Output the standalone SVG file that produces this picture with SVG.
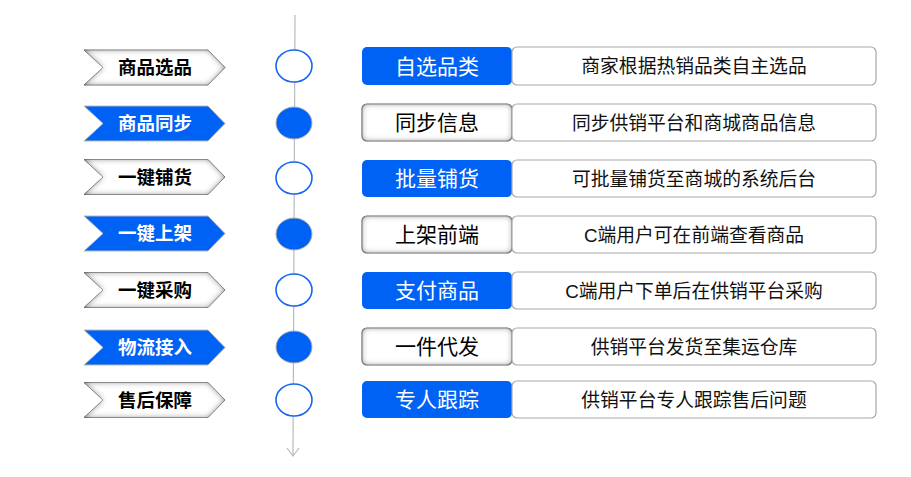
<svg xmlns="http://www.w3.org/2000/svg" width="911" height="477" viewBox="0 0 911 477">
<defs>
<style>
.cw{fill:#ffffff;stroke:#a8a8a8;stroke-width:1;filter:url(#inset)}
.cb{fill:#0062F5;stroke:#b8b8b8;stroke-width:1}
.ct{font-family:"Liberation Sans","Noto Sans CJK SC",sans-serif;font-size:18.5px;font-weight:bold;text-anchor:middle}
.ctw{fill:#000000}
.ctb{fill:#ffffff}
.oc{fill:#ffffff;stroke:#1466F0;stroke-width:1.6}
.fc{fill:#0062F5;stroke:#b0b0b0;stroke-width:1}
.lb{fill:#0062F5;stroke:none}
.lg{fill:#ffffff;stroke:#999999;stroke-width:1.2;filter:url(#inset)}
.lt{font-family:"Liberation Sans","Noto Sans CJK SC",sans-serif;font-size:21px;text-anchor:middle}
.rb{fill:#ffffff;stroke:#a8a8a8;stroke-width:1.2}
.rt{font-family:"Liberation Sans","Noto Sans CJK SC",sans-serif;font-size:18.8px;text-anchor:middle;fill:#111111}
</style>
<filter id="inset" x="-10%" y="-20%" width="120%" height="140%">
<feFlood flood-color="#555555"/>
<feComposite in2="SourceAlpha" operator="out"/>
<feGaussianBlur stdDeviation="3"/>
<feComposite in2="SourceAlpha" operator="in" result="sh"/>
<feMerge><feMergeNode in="SourceGraphic"/><feMergeNode in="sh"/></feMerge>
</filter>
<path id="chev" d="M0,0 H124 L141,17.5 L124,35 H0 L19,17.5 Z"/>
</defs>
<rect width="911" height="477" fill="#ffffff"/>
<g id="connectors">
<line x1="295" y1="15" x2="293" y2="456" stroke="#bbbbbb" stroke-width="1.2"/>
<path d="M287,448 L293,456 L299,448" fill="none" stroke="#bbbbbb" stroke-width="1.2"/>
</g>
<g id="row1">
<use href="#chev" x="84" y="50" class="cw"/>
<text class="ct ctw" x="155" y="74">商品选品</text>
<ellipse class="oc" cx="294" cy="66" rx="18" ry="16"/>
<rect class="lb" x="362" y="47" width="150" height="38" rx="5"/>
<text class="lt" x="437" y="73.5" fill="#ffffff">自选品类</text>
<rect class="rb" x="512" y="47" width="364" height="38" rx="5"/>
<text class="rt" x="694" y="72.5">商家根据热销品类自主选品</text>
</g>
<g id="row2">
<use href="#chev" x="84" y="106" class="cb"/>
<text class="ct ctb" x="155" y="130">商品同步</text>
<ellipse class="fc" cx="294" cy="123" rx="18" ry="16"/>
<rect class="lg" x="362" y="104" width="150" height="37" rx="5"/>
<text class="lt" x="437" y="130" fill="#000000">同步信息</text>
<rect class="rb" x="512" y="104" width="364" height="37" rx="5"/>
<text class="rt" x="694" y="129.5">同步供销平台和商城商品信息</text>
</g>
<g id="row3">
<use href="#chev" x="84" y="159.5" class="cw"/>
<text class="ct ctw" x="155" y="184">一键铺货</text>
<ellipse class="oc" cx="294" cy="178" rx="18" ry="16"/>
<rect class="lb" x="362" y="160" width="150" height="37" rx="5"/>
<text class="lt" x="437" y="186" fill="#ffffff">批量铺货</text>
<rect class="rb" x="512" y="160" width="364" height="37" rx="5"/>
<text class="rt" x="694" y="185.5">可批量铺货至商城的系统后台</text>
</g>
<g id="row4">
<use href="#chev" x="84" y="216" class="cb"/>
<text class="ct ctb" x="155" y="240">一键上架</text>
<ellipse class="fc" cx="294" cy="234" rx="18" ry="16"/>
<rect class="lg" x="362" y="216" width="150" height="37" rx="5"/>
<text class="lt" x="437" y="242" fill="#000000">上架前端</text>
<rect class="rb" x="512" y="216" width="364" height="37" rx="5"/>
<text class="rt" x="694" y="241.5">C端用户可在前端查看商品</text>
</g>
<g id="row5">
<use href="#chev" x="84" y="272.5" class="cw"/>
<text class="ct ctw" x="155" y="296.5">一键采购</text>
<ellipse class="oc" cx="294" cy="290" rx="18" ry="16"/>
<rect class="lb" x="362" y="272" width="150" height="37" rx="5"/>
<text class="lt" x="437" y="298" fill="#ffffff">支付商品</text>
<rect class="rb" x="512" y="272" width="364" height="37" rx="5"/>
<text class="rt" x="694" y="297.5">C端用户下单后在供销平台采购</text>
</g>
<g id="row6">
<use href="#chev" x="84" y="330" class="cb"/>
<text class="ct ctb" x="155" y="354">物流接入</text>
<ellipse class="fc" cx="294" cy="347" rx="18" ry="16"/>
<rect class="lg" x="362" y="328" width="150" height="37" rx="5"/>
<text class="lt" x="437" y="354" fill="#000000">一件代发</text>
<rect class="rb" x="512" y="328" width="364" height="37" rx="5"/>
<text class="rt" x="694" y="353.5">供销平台发货至集运仓库</text>
</g>
<g id="row7">
<use href="#chev" x="84" y="382.5" class="cw"/>
<text class="ct ctw" x="155" y="406.5">售后保障</text>
<ellipse class="oc" cx="294" cy="400" rx="18" ry="16"/>
<rect class="lb" x="362" y="381" width="150" height="37" rx="5"/>
<text class="lt" x="437" y="407" fill="#ffffff">专人跟踪</text>
<rect class="rb" x="512" y="381" width="364" height="37" rx="5"/>
<text class="rt" x="694" y="406.5">供销平台专人跟踪售后问题</text>
</g>
</svg>
